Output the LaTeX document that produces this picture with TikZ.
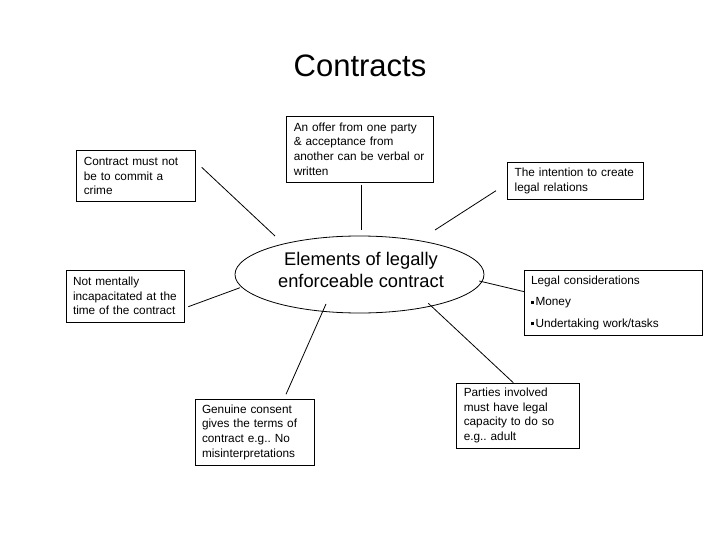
\documentclass[tikz,border=0pt]{standalone}
\usepackage{fontspec}
\setmainfont{Liberation Sans}
\usetikzlibrary{shapes.geometric}
\frenchspacing
\newcommand{\bxfont}{\fontsize{11.8pt}{14.7pt}\selectfont}
\newcommand{\sqbul}{\rule[2pt]{3pt}{3pt}\hspace{1.5pt}}
\tikzset{
  txtbox/.style n args={2}{draw=black, line width=0.8pt, rectangle, inner xsep=7pt, inner ysep=0pt,
     minimum width=#1pt, minimum height=#2pt, text width=#1pt-14pt, align=left, font=\bxfont},
  link/.style={draw=black, line width=0.8pt},
  hub/.style={draw=black, line width=0.8pt, ellipse, inner sep=0pt},
}
\begin{document}
\begin{tikzpicture}[x=1pt,y=-1pt]
\useasboundingbox[fill=white] (0,0) rectangle (720,540);
% title
\node[anchor=base, font=\fontsize{31pt}{36pt}\selectfont, inner sep=0pt] (title) at (360,77) {Contracts};
% hub
\node[hub, minimum width=249pt, minimum height=77pt] (hub) at (359.5,274.5) {};
\node[align=center, font=\fontsize{18.3pt}{22pt}\selectfont, inner sep=0pt] (hubtext) at (361,270) {Elements of legally\\enforceable contract};
% boxes
\node[txtbox={146.3}{66}] (offer) at (359.9,149) {An offer from one party\\\& acceptance from\\another can be verbal or\\written};
\node[txtbox={118.3}{51}] (crime) at (135.9,176.2) {Contract must not\\be to commit a\\crime};
\node[txtbox={118}{52}] (mental) at (125,296) {Not mentally\\incapacitated at the\\time of the contract};
\node[txtbox={135.3}{36.3}] (intent) at (575.3,180.9) {The intention to create\\legal relations};
\node[txtbox={178}{64.3}] (legal) at (613,302.9) {Legal considerations\\[6.8pt]\sqbul Money\\[6.8pt]\sqbul Undertaking work/tasks};
\node[txtbox={119}{66}] (genuine) at (254.5,432) {Genuine consent\\gives the terms of\\contract e.g.. No\\misinterpretations};
\node[txtbox={122.3}{65}] (parties) at (517.9,415.5) {Parties involved\\must have legal\\capacity to do so\\e.g.. adult};
% connector end points (connectors stop short of the shapes)
\coordinate (crimeA) at (201.7,167.3);  \coordinate (crimeB) at (275,236);
\coordinate (offerA) at (361,185);      \coordinate (offerB) at (361,230);
\coordinate (mentalA) at (188.3,306.7); \coordinate (mentalB) at (240,287.7);
\coordinate (intentA) at (496,190.7);   \coordinate (intentB) at (435,230);
\coordinate (legalA) at (524.3,291.7);  \coordinate (legalB) at (479.3,281);
\coordinate (genA) at (286,394.3);      \coordinate (genB) at (326,304);
\coordinate (partA) at (513.3,382.7);   \coordinate (partB) at (428.3,303.3);
\draw[link] (crimeA) -- (crimeB);
\draw[link] (offerA) -- (offerB);
\draw[link] (mentalA) -- (mentalB);
\draw[link] (intentA) -- (intentB);
\draw[link] (legalA) -- (legalB);
\draw[link] (genA) -- (genB);
\draw[link] (partA) -- (partB);
\end{tikzpicture}
\end{document}
